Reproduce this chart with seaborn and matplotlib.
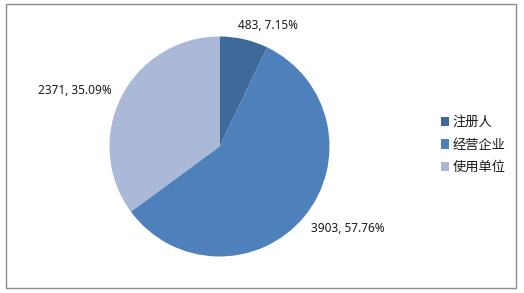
import matplotlib
matplotlib.use("Agg")
import matplotlib.pyplot as plt
import matplotlib.patches as mpatches
import seaborn as sns

categories = ["注册人", "经营企业", "使用单位"]
values = [483, 3903, 2371]
percent_labels = ["7.15%", "57.76%", "35.09%"]
colors = ["#3F689B", "#4E80BC", "#A9B9D7"]

sns.set_style("white")
plt.rcParams['font.family'] = ['Noto Sans CJK SC', 'DejaVu Sans']

W, H = 524, 293
fig = plt.figure(figsize=(W / 100, H / 100), dpi=100)
fig.patch.set_facecolor("white")

cx, cy, r = 219.5, 146.5, 110
ax = fig.add_axes([(cx - r) / W, (H - cy - r) / H, 2 * r / W, 2 * r / H])
wedges, _ = ax.pie(values, colors=colors, startangle=90, counterclock=False,
                   radius=1, wedgeprops=dict(linewidth=0))
ax.set_xlim(-1, 1)
ax.set_ylim(-1, 1)
ax.set_aspect("equal")
ax.axis("off")

label_layout = [((0.165, 1.10), "left"), ((0.835, -0.745), "left"), ((-0.975, 0.51), "right")]
for v, p, ((x, y), ha) in zip(values, percent_labels, label_layout):
    ax.text(x, y, f"{v}, {p}", ha=ha, va="center", fontsize=8.5,
            family=["Noto Sans", "DejaVu Sans"], color="#1a1a1a", clip_on=False)

handles = [mpatches.Patch(facecolor=c, edgecolor="none") for c in colors]
fig.legend(handles, categories, loc="center left",
           bbox_to_anchor=(434 / W, 1 - 145 / H), frameon=False,
           fontsize=9.5, handlelength=0.6, handleheight=0.7, handletextpad=0.3,
           labelspacing=0.72, borderpad=0, labelcolor="#1a1a1a")

border = mpatches.Rectangle((6 / W, 1 - 288 / H), 510 / W, 284 / H,
                            transform=fig.transFigure, fill=False,
                            edgecolor="#8C8C8C", linewidth=1.0)
fig.patches.append(border)

fig.savefig("out.png", dpi=100, facecolor="white")
